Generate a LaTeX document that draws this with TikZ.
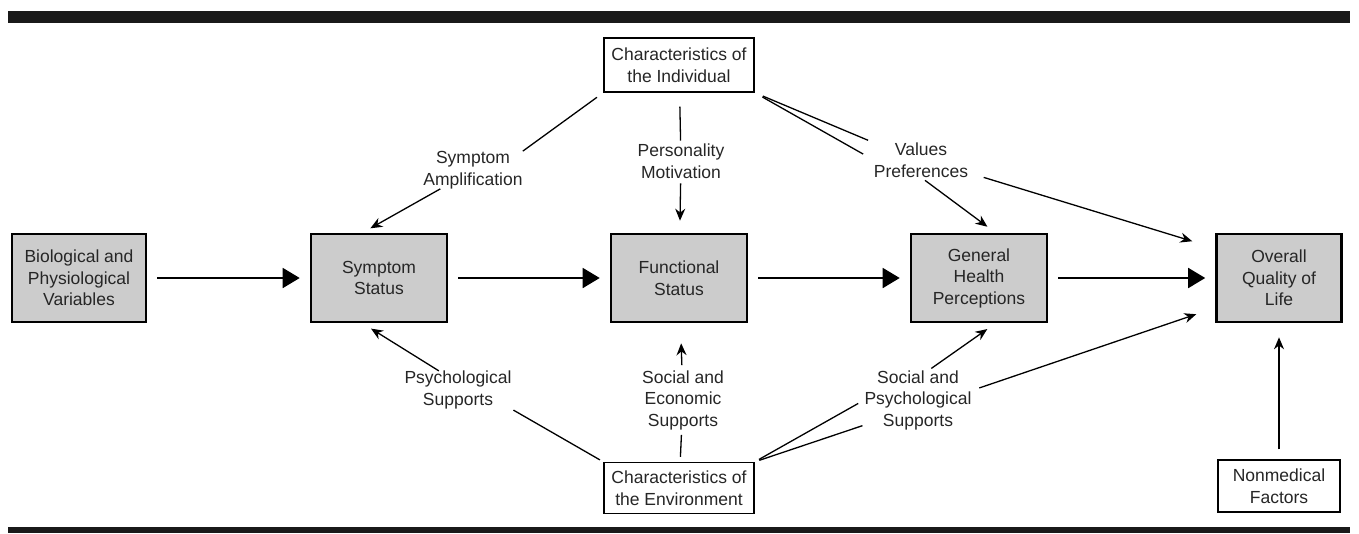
\documentclass[tikz,border=0pt]{standalone}
\usepackage{fontspec}
\setmainfont{Liberation Sans}
\usepackage{tikz}
\usetikzlibrary{positioning}
\usetikzlibrary{shapes,arrows,arrows.meta}
\tikzstyle{block} = [rectangle, draw=black, line width=2.6pt, fill=black!20,
    minimum width=136pt, minimum height=88pt, align=center, inner sep=0pt]
\tikzstyle{source} = [rectangle, draw=black, line width=1.2pt, fill=white,
    minimum width=150pt, minimum height=54pt, align=center, inner sep=0pt]
\tikzstyle{lbl} = [align=center, inner sep=0pt]
\tikzstyle{flow} = [line width=1.8pt, -{Triangle[length=17pt,width=20pt]}, shorten <=10pt, shorten >=10pt]
\tikzstyle{arrow} = [line width=1.3pt, ->, >={Stealth[length=12pt,width=10pt]}]
\tikzstyle{link} = [line width=1.3pt]

\begin{document}
\begin{tikzpicture}[x=1pt, y=-1pt, node distance=300pt,
    font=\fontsize{17.5}{21.5}\selectfont, text=black!85]
\useasboundingbox (0,0) rectangle (1359,533);
\fill[black!90] (8,11) rectangle (1350,23);
\fill[black!90] (8,527) rectangle (1350,533);

\node (bio) [block, minimum width=134pt] at (79,278) {Biological and\\Physiological\\Variables};
\node (symptom) [block, right of=bio] {Symptom\\Status};
\node (func) [block, right of=symptom] {Functional\\Status};
\node (gen) [block, right of=func] {General\\Health\\Perceptions};
\node (overall) [block, right of=gen, minimum width=125pt] {Overall\\Quality of\\Life};
\node (indiv) [source, node distance=213pt, above of=func] {Characteristics of\\the Individual};
\node (env) [source, node distance=210pt, below of=func, minimum height=51pt] {Characteristics of\\the Environment};
\node (nonmed) [source, node distance=208pt, below of=overall, minimum width=122pt, minimum height=52pt] {Nonmedical\\Factors};

\node (symamp) [lbl] at (473,170) {Symptom\\Amplification};
\node (persmot) [lbl] at (681,161) {Personality\\Motivation};
\node (valpref) [lbl] at (921,160) {Values\\Preferences};
\node (psysup) [lbl] at (458,390) {Psychological\\Supports};
\node (socecon) [lbl] at (683,400) {Social and\\Economic\\Supports};
\node (socpsy) [lbl] at (918,400) {Social and\\Psychological\\Supports};

\draw [flow] (bio) -- (symptom);
\draw [flow] (symptom) -- (func);
\draw [flow] (func) -- (gen);
\draw [flow] (gen) -- (overall);

\draw [link, shorten <=8pt] (indiv.south west) -- (symamp.north east);
\draw [arrow, shorten >=9pt] (symamp.210) -- (symptom.110);
\draw [link, shorten <=14pt, shorten >=3pt] (indiv) -- (persmot);
\draw [arrow, shorten <=5pt, shorten >=12pt] (persmot) -- (func);
\draw [link, shorten <=9pt, shorten >=6pt] (indiv.south east) -- (valpref.north west);
\draw [link, shorten <=9pt, shorten >=12pt] (indiv.south east) -- (valpref.west);
\draw [arrow, shorten <=5pt, shorten >=10pt] (valpref.south) -- (gen.70);
\draw [arrow, shorten <=16pt, shorten >=24pt] (valpref.-15) -- (overall.155);

\draw [link, shorten <=4pt, shorten >=2pt] (env.north west) -- (psysup.south east);
\draw [arrow, shorten >=10pt] (psysup.135) -- (symptom.-110);
\draw [link, shorten <=5pt, shorten >=5pt] (env) -- (socecon);
\draw [arrow, shorten <=5pt, shorten >=20pt] (socecon) -- (func);
\draw [link, shorten <=5pt, shorten >=7pt] (env.north east) -- (socpsy.west);
\draw [link, shorten <=5pt, shorten >=2pt] (env.north east) -- (socpsy.205);
\draw [arrow, shorten <=3pt, shorten >=10pt] (socpsy.70) -- (gen.-70);
\draw [arrow, shorten <=8pt, shorten >=20pt] (socpsy.10) -- (overall.-155);
\draw [arrow, shorten <=10pt, shorten >=14pt] (nonmed) -- (overall);
\end{tikzpicture}
\end{document}
